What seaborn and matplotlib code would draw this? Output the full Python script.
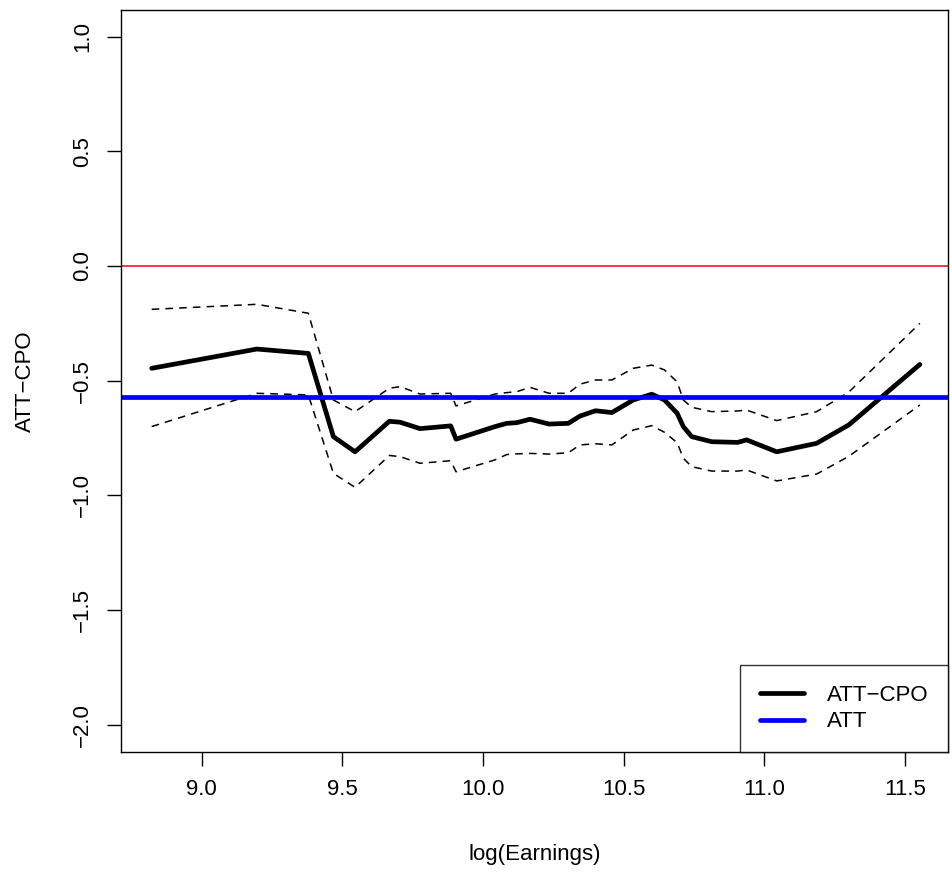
import matplotlib
matplotlib.use("Agg")
import matplotlib.pyplot as plt
import seaborn as sns
import numpy as np
import pandas as pd

log_earnings = [8.822, 9.196, 9.379, 9.468, 9.545, 9.667, 9.705, 9.776, 9.885, 9.904,
                10.043, 10.084, 10.120, 10.167, 10.235, 10.303, 10.345, 10.400, 10.458,
                10.534, 10.600, 10.645, 10.690, 10.712, 10.742, 10.813, 10.905, 10.937,
                11.044, 11.186, 11.300, 11.553]
att_cpo = [-0.446, -0.362, -0.381, -0.744, -0.810, -0.677, -0.681, -0.709, -0.697, -0.755,
           -0.700, -0.686, -0.683, -0.668, -0.689, -0.686, -0.654, -0.631, -0.639,
           -0.584, -0.559, -0.584, -0.642, -0.700, -0.744, -0.766, -0.769, -0.758,
           -0.810, -0.773, -0.693, -0.429]
upper = [-0.189, -0.167, -0.206, -0.584, -0.635, -0.533, -0.526, -0.558, -0.555, -0.610,
         -0.558, -0.552, -0.548, -0.529, -0.555, -0.555, -0.515, -0.497, -0.497,
         -0.446, -0.432, -0.453, -0.505, -0.584, -0.616, -0.635, -0.632, -0.628,
         -0.674, -0.635, -0.550, -0.250]
lower = [-0.700, -0.555, -0.562, -0.904, -0.965, -0.826, -0.831, -0.860, -0.849, -0.897,
         -0.845, -0.822, -0.819, -0.817, -0.820, -0.814, -0.780, -0.775, -0.780,
         -0.715, -0.696, -0.725, -0.770, -0.838, -0.875, -0.894, -0.894, -0.889,
         -0.937, -0.907, -0.830, -0.606]
att_value = -0.570
zero_value = 0.0
x_ticks = [9.0, 9.5, 10.0, 10.5, 11.0, 11.5]
y_ticks = [-2.0, -1.5, -1.0, -0.5, 0.0, 0.5, 1.0]

sns.set_style("ticks")
plt.rcParams['font.family'] = ['Liberation Sans', 'DejaVu Sans']
plt.rcParams['axes.unicode_minus'] = True
plt.rcParams['text.color'] = 'black'
plt.rcParams['axes.labelcolor'] = 'black'

df = pd.DataFrame({"x": log_earnings, "y": att_cpo, "up": upper, "lo": lower})

fig = plt.figure(figsize=(9.52, 8.76), dpi=100)
ax = fig.add_axes([121/952, 1-752.3/876, (948.3-121)/952, (752.3-10)/876])

sns.lineplot(data=df, x="x", y="up", ax=ax, color="black", lw=1.1,
             linestyle=(0, (5, 4)), sort=False, estimator=None)
sns.lineplot(data=df, x="x", y="lo", ax=ax, color="black", lw=1.1,
             linestyle=(0, (5, 4)), sort=False, estimator=None)
ax.axhline(zero_value, color="red", lw=1.1)
sns.lineplot(data=df, x="x", y="y", ax=ax, color="black", lw=3.4,
             sort=False, estimator=None, label="ATT\u2212CPO")
ax.axhline(att_value, color="blue", lw=3.4, label="ATT")

ax.set_xlim(8.713, 11.654)
ax.set_ylim(-2.12, 1.116)
ax.set_xticks(x_ticks)
ax.set_xticklabels([f"{v:.1f}" for v in x_ticks])
ax.set_yticks(y_ticks)
ax.set_yticklabels([f"{v:.1f}".replace("-", "\u2212") for v in y_ticks],
                   rotation=90, va="center")
ax.tick_params(axis="both", length=10, width=1.0, labelsize=16, pad=9, color="black",
               labelcolor="black")
ax.tick_params(axis="y", pad=10)
for s in ax.spines.values():
    s.set_color("black")
    s.set_linewidth(1.0)

ax.set_xlabel("log(Earnings)", fontsize=16, labelpad=32, color="black")
ax.set_ylabel("ATT\u2212CPO", fontsize=16, labelpad=26, color="black")

leg = ax.legend(loc="lower right", fontsize=16, frameon=True, fancybox=False,
                borderaxespad=0.0, handlelength=2.0, handletextpad=1.0,
                labelspacing=0.25, borderpad=0.9)
leg.get_frame().set_edgecolor("black")
leg.get_frame().set_linewidth(1.0)
for t in leg.get_texts():
    t.set_color("black")

fig.savefig("out.png", dpi=100)
